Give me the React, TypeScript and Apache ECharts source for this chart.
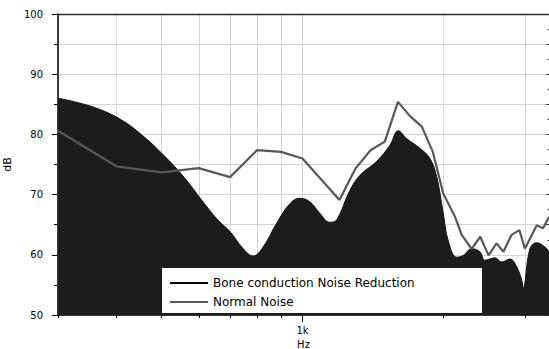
import React, { useEffect, useRef } from "react";
import * as echarts from "echarts";

// Bone conduction Noise Reduction (filled, smooth)
const boneFreq = [300, 330, 370, 410, 452, 507, 559, 617, 659, 699, 747, 784, 824, 880, 940, 987, 1037, 1089, 1144, 1183, 1263, 1327, 1440, 1538, 1603, 1670, 1783, 1873, 1936, 2000, 2049, 2137, 2207, 2300, 2396, 2456, 2580, 2667, 2778, 2872, 2943, 2966, 3065, 3169, 3300, 3367];
const boneDb = [86.0, 85.3, 84.1, 82.4, 80.0, 76.4, 72.8, 68.5, 65.8, 63.9, 61.0, 59.8, 61.3, 65.2, 68.5, 69.4, 68.8, 66.9, 65.4, 65.8, 70.7, 73.2, 75.5, 78.2, 80.6, 79.3, 77.7, 76.0, 73.0, 66.9, 62.4, 59.6, 59.9, 61.0, 60.5, 59.1, 59.5, 58.8, 59.3, 58.0, 55.8, 54.5, 61.0, 62.0, 61.3, 60.5];

// Normal Noise (gray line)
const noiseFreq = [300, 400, 500, 600, 700, 800, 900, 1000, 1200, 1300, 1400, 1500, 1600, 1700, 1800, 1900, 2000, 2120, 2190, 2300, 2400, 2500, 2600, 2690, 2800, 2910, 2990, 3170, 3270, 3367];
const noiseDb = [80.6, 74.7, 73.7, 74.4, 72.9, 77.4, 77.1, 76.0, 69.1, 74.4, 77.4, 78.8, 85.4, 83.0, 81.3, 77.1, 70.2, 66.3, 63.3, 61.0, 63.0, 59.9, 61.9, 60.5, 63.3, 64.1, 61.0, 64.9, 64.4, 66.3];

// Axis ticks
const gridFreqs = [300, 400, 500, 600, 700, 800, 900, 1000, 2000, 3000];
const xLabelValues = [1000];
const xLabelText = ["1k"];

const FONT = "DejaVu Sans";

export default function App() {
  const ref = useRef<HTMLDivElement>(null);
  useEffect(() => {
    if (!ref.current) return;
    const chart = echarts.init(ref.current, undefined, { renderer: "svg" });
    const bone = boneFreq.map((f, i) => [f, boneDb[i]]);
    const noise = noiseFreq.map((f, i) => [f, noiseDb[i]]);
    const gridColor = "#d4d4d4";
    chart.setOption({
      animation: false,
      backgroundColor: "#fff",
      grid: { left: 58, top: 14, right: 0, bottom: 34, containLabel: false, outerBoundsMode: "none" },
      legend: {
        left: 162,
        top: 268,
        orient: "vertical",
        backgroundColor: "#fff",
        padding: [8, 4, 4, 8],
        itemGap: 5,
        itemWidth: 38,
        itemHeight: 2,
        icon: "rect",
        textStyle: { fontFamily: FONT, fontSize: 12, color: "#000", width: 265, lineHeight: 14 },
        data: ["Bone conduction Noise Reduction", "Normal Noise"],
      },
      xAxis: [
        {
          type: "log",
          logBase: 10,
          min: 300,
          max: 3367,
          position: "bottom",
          axisLine: { show: true, lineStyle: { color: "#000", width: 1.5 } },
          axisTick: { show: true, customValues: gridFreqs, length: 3, lineStyle: { color: "#000" } },
          axisLabel: {
            show: true,
            customValues: xLabelValues,
            margin: 10,
            fontFamily: FONT,
            fontSize: 10,
            color: "#000",
            formatter: (v: number) => {
              const i = xLabelValues.indexOf(Math.round(v));
              return i >= 0 ? xLabelText[i] : "";
            },
          },
          splitLine: { show: true, lineStyle: { color: gridColor, width: 1 } },
          name: "Hz",
          nameLocation: "middle",
          nameGap: 23,
          nameTextStyle: { fontFamily: FONT, fontSize: 10, color: "#000" },
        },
        {
          type: "log",
          logBase: 10,
          min: 300,
          max: 3367,
          position: "bottom",
          axisLine: { show: false },
          axisTick: { show: true, customValues: [1000], length: 7, lineStyle: { color: "#000" } },
          axisLabel: { show: false },
          splitLine: { show: false },
        },
        {
          type: "log",
          logBase: 10,
          min: 300,
          max: 3367,
          position: "top",
          axisLine: { show: true, lineStyle: { color: "#333", width: 1.3 } },
          axisTick: { show: false },
          axisLabel: { show: false },
          splitLine: { show: false },
        },
      ],
      yAxis: [
        {
          type: "value",
          min: 50,
          max: 100,
          interval: 10,
          position: "left",
          axisLine: { show: true, lineStyle: { color: "#000", width: 1.5 } },
          axisTick: { show: true, length: 6, lineStyle: { color: "#000" } },
          minorTick: { show: true, splitNumber: 2, length: 4, lineStyle: { color: "#000" } },
          splitLine: { show: true, lineStyle: { color: gridColor, width: 1 } },
          minorSplitLine: { show: true, lineStyle: { color: gridColor, width: 1 } },
          axisLabel: { margin: 15, fontFamily: FONT, fontSize: 10, color: "#000" },
          name: "dB",
          nameLocation: "middle",
          nameGap: 41,
          nameTextStyle: { fontFamily: FONT, fontSize: 11, color: "#000" },
        },
        {
          type: "value",
          min: 50,
          max: 100,
          interval: 5,
          position: "right",
          axisLine: { show: false },
          axisTick: { show: true, inside: true, length: 3, lineStyle: { color: "#333" } },
          minorTick: { show: true, splitNumber: 2, length: 1.5, lineStyle: { color: "#333" } },
          axisLabel: { show: false },
          splitLine: { show: false },
        },
      ],
      series: [
        {
          name: "Bone conduction Noise Reduction",
          type: "line",
          xAxisIndex: 0,
          yAxisIndex: 0,
          data: bone,
          smooth: 0.4,
          symbol: "none",
          itemStyle: { color: "#000" },
          lineStyle: { color: "#111", width: 1 },
          areaStyle: { color: "#1c1c1c", opacity: 1 },
          z: 2,
        },
        {
          name: "Normal Noise",
          type: "line",
          xAxisIndex: 0,
          yAxisIndex: 0,
          data: noise,
          symbol: "none",
          itemStyle: { color: "#585858" },
          lineStyle: { color: "#585858", width: 2.2 },
          z: 3,
        },
      ],
    });
    return () => chart.dispose();
  }, []);
  return (
    <div
      ref={ref}
      style={{ position: "absolute", left: 0, top: 0, width: 549, height: 349, background: "#fff" }}
    />
  );
}
